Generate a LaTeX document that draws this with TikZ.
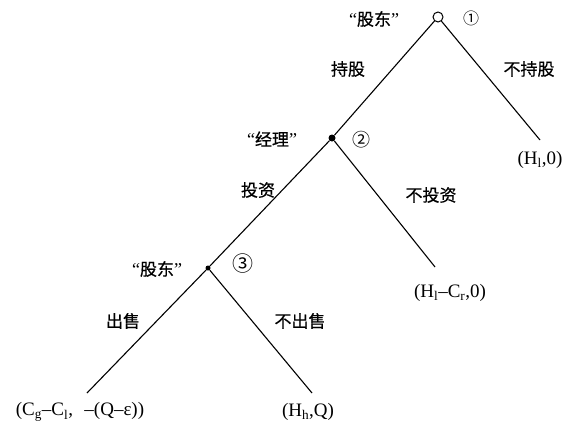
\documentclass[tikz,border=0pt]{standalone}
\usepackage{fontspec}
\setmainfont{Liberation Serif}
\newfontfamily\cjk[FakeBold=0.6]{Noto Sans CJK SC}
\newfontfamily\cjknum{Noto Sans CJK SC}
\begin{document}
\begin{tikzpicture}[x=1pt,y=-1pt,
  branch/.style={line width=1.1pt},
  cn/.style={font=\cjk\fontsize{17}{19}\selectfont, inner sep=0pt},
  qt/.style={font=\fontsize{18}{20}\selectfont, inner sep=0pt},
  pay/.style={font=\fontsize{19}{21}\selectfont, inner sep=0pt},
  num/.style={font=\cjknum\fontsize{18}{20}\selectfont, inner sep=0pt}]
\useasboundingbox (0,0) rectangle (572,431);
\node[circle,draw,line width=1pt,inner sep=0pt,minimum size=10pt] (n1) at (438,17) {};
\node[circle,fill,inner sep=0pt,minimum size=7pt] (n2) at (332,138) {};
\node[circle,fill,inner sep=0pt,minimum size=5pt] (n3) at (208,268) {};
\coordinate (e1) at (540,140);
\coordinate (e2) at (435,267);
\coordinate (e3) at (87,393);
\coordinate (e4) at (312,393);
\draw[branch] (n1) -- (n2);
\draw[branch] (n1) -- (e1);
\draw[branch] (n2) -- (n3);
\draw[branch] (n2) -- (e2);
\draw[branch] (n3) -- (e3);
\draw[branch] (n3) -- (e4);
% labels
\node[qt] (l1) at (374,19) {“{\cjk\fontsize{17}{19}\selectfont 股东}”};
\node[num,font=\cjknum\fontsize{16}{18}\selectfont] (c1) at (471,18) {①};
\node[cn] (a1) at (348,69) {持股};
\node[cn] (a2) at (529,69) {不持股};
\node[qt] (l2) at (272,139) {“{\cjk\fontsize{17}{19}\selectfont 经理}”};
\node[num] (c2) at (361,140) {②};
\node[cn] (a3) at (258,190) {投资};
\node[cn] (a4) at (431,195) {不投资};
\node[qt] (l3) at (157,269) {“{\cjk\fontsize{17}{19}\selectfont 股东}”};
\node[num,font=\cjknum\fontsize{21}{23}\selectfont] (c3) at (243,264) {③};
\node[cn] (a5) at (123,321) {出售};
\node[cn] (a6) at (300,321) {不出售};
\node[pay] (p1) at (540,160) {(H\textsubscript{l},0)};
\node[pay] (p2) at (450,293) {(H\textsubscript{l}–C\textsubscript{r},0)};
\node[pay] (p3) at (80,412) {(C\textsubscript{g}–C\textsubscript{l},\hspace{0.6em}–(Q–ε))};
\node[pay] (p4) at (308,412) {(H\textsubscript{h},Q)};
\end{tikzpicture}
\end{document}
